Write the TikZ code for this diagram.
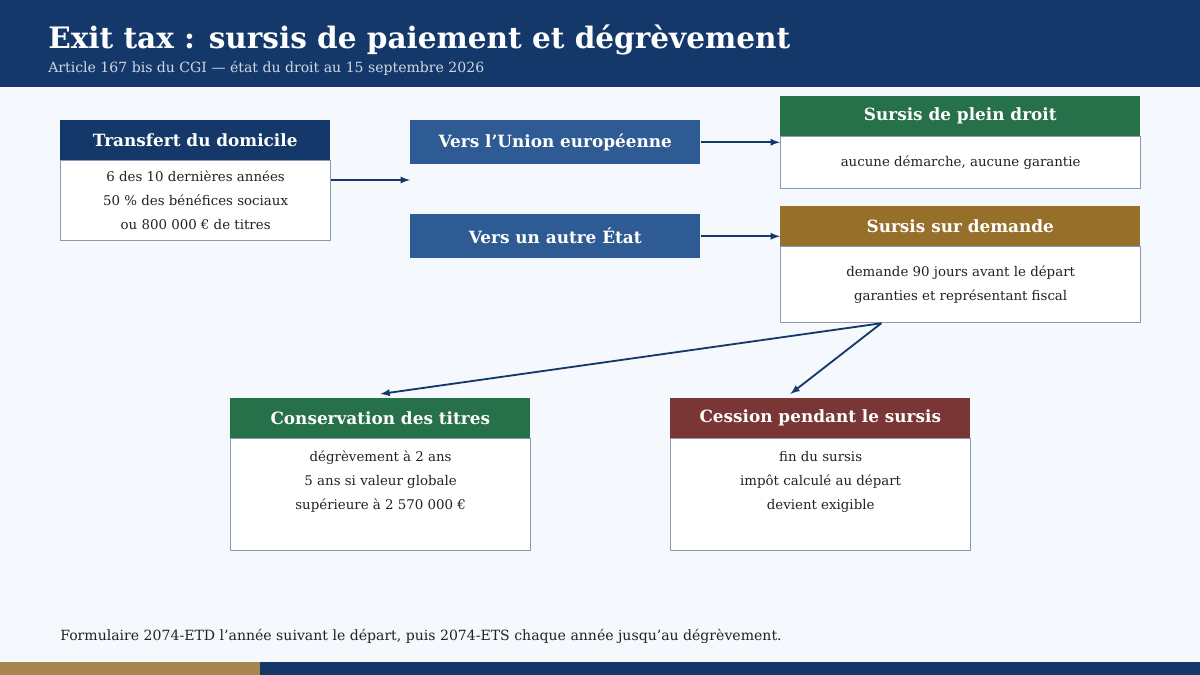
\documentclass[tikz,border=0pt]{standalone}
\usepackage{fontspec}
\setmainfont{DejaVu Serif}
\usetikzlibrary{positioning}
\definecolor{navy}{HTML}{15386B}
\definecolor{midblue}{HTML}{2F5B94}
\definecolor{leaf}{HTML}{26704A}
\definecolor{ochre}{HTML}{96702A}
\definecolor{wine}{HTML}{7A3535}
\definecolor{paper}{HTML}{F5F8FC}
\definecolor{frame}{HTML}{8A9AB0}
\definecolor{gold}{HTML}{A88650}
\definecolor{ink}{HTML}{222222}
\begin{document}
\begin{tikzpicture}[x=0.025cm,y=-0.025cm,
    head/.style={anchor=north west,inner sep=0pt,text=white,font=\fontsize{12}{14}\selectfont\bfseries,align=center},
    body/.style={anchor=north west,inner sep=0pt,draw=frame,line width=0.9pt,fill=white,text=ink,font=\fontsize{9.5}{17}\selectfont,align=center},
    link/.style={->,>=latex,draw=navy,line width=1.3pt}]
    \fill[paper] (0,0) rectangle (1200,675);
    \useasboundingbox (0,0) rectangle (1200,675);
    \fill[navy] (0,0) rectangle (1200,87);
    \node[anchor=west,inner sep=0pt,text=white,font=\fontsize{21}{24}\selectfont\bfseries] (title) at (48,40) {Exit tax : sursis de paiement et dégrèvement};
    \node[anchor=west,inner sep=0pt,text=white!80!navy,font=\fontsize{10}{12}\selectfont] (sub) at (48,68) {Article 167 bis du CGI — état du droit au 15 septembre 2026};

    \node[head,fill=navy,minimum width=270*0.025cm,minimum height=40*0.025cm] (th) at (60,120) {Transfert du domicile};
    \node[body,minimum width=270*0.025cm,minimum height=80*0.025cm] (tb) at (60,160) {6 des 10 dernières années\\50 \% des bénéfices sociaux\\ou 800 000 € de titres};

    \node[head,fill=midblue,minimum width=290*0.025cm,minimum height=44*0.025cm] (ue) at (410,120) {Vers l'Union européenne};
    \node[head,fill=midblue,minimum width=290*0.025cm,minimum height=44*0.025cm] (etat) at (410,214) {Vers un autre État};

    \node[head,fill=leaf,minimum width=360*0.025cm,minimum height=40*0.025cm] (ph) at (780,96) {Sursis de plein droit};
    \node[body,minimum width=360*0.025cm,minimum height=52*0.025cm] (pb) at (780,136) {aucune démarche, aucune garantie};

    \node[head,fill=ochre,minimum width=360*0.025cm,minimum height=40*0.025cm] (dh) at (780,206) {Sursis sur demande};
    \node[body,minimum width=360*0.025cm,minimum height=76*0.025cm] (db) at (780,246) {demande 90 jours avant le départ\\garanties et représentant fiscal};

    \node[head,fill=leaf,minimum width=300*0.025cm,minimum height=40*0.025cm] (ch) at (230,398) {Conservation des titres};
    \node[body,minimum width=300*0.025cm,minimum height=112*0.025cm,text depth=0pt] (cb) at (230,438) {\rule{0pt}{1pt}\\[-4pt]dégrèvement à 2 ans\\5 ans si valeur globale\\supérieure à 2 570 000 €\\[10pt]};

    \node[head,fill=wine,minimum width=300*0.025cm,minimum height=40*0.025cm] (sh) at (670,398) {Cession pendant le sursis};
    \node[body,minimum width=300*0.025cm,minimum height=112*0.025cm] (sb) at (670,438) {\rule{0pt}{1pt}\\[-4pt]fin du sursis\\impôt calculé au départ\\devient exigible\\[10pt]};

    \coordinate (gap) at (410,180);
    \draw[link] (tb.east|-gap) -- (gap);
    \draw[link] (ue.east) -- (ph.west|-ue.east);
    \draw[link] (etat.east) -- (dh.west|-etat.east);
    \draw[link] ([xshift=-260*0.025cm]db.south east) -- ([yshift=4*0.025cm]ch.north);
    \draw[link] ([xshift=-260*0.025cm]db.south east) -- ([xshift=-30*0.025cm,yshift=4*0.025cm]sh.north);

    \node[anchor=west,inner sep=0pt,text=ink,font=\fontsize{10}{12}\selectfont] (note) at (60,636) {Formulaire 2074-ETD l'année suivant le départ, puis 2074-ETS chaque année jusqu'au dégrèvement.};
    \fill[gold] (0,662) rectangle (260,675);
    \fill[navy] (260,662) rectangle (1200,675);
\end{tikzpicture}
\end{document}
